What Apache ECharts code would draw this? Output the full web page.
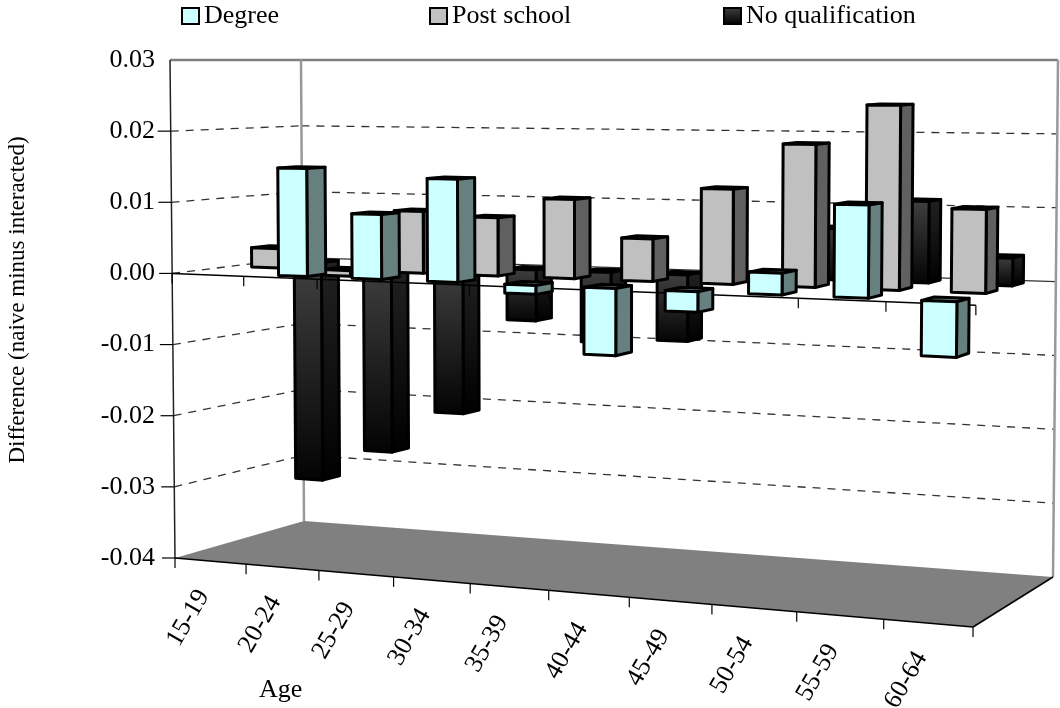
<!DOCTYPE html>
<html>
<head>
<meta charset="utf-8">
<style>html,body{margin:0;padding:0;background:#fff}#chart{width:1060px;height:708px}</style>
<script src="https://cdn.jsdelivr.net/npm/echarts@6/dist/echarts.min.js"></script>
</head>
<body>
<div id="chart"></div>
<script>
// Age bands and the difference between the naive and interacted estimates.
var ageBands = ['15-19','20-24','25-29','30-34','35-39','40-44','45-49','50-54','55-59','60-64'];
var degree = [null, 0.0150, 0.0089, 0.0140, -0.0012, -0.0089, -0.0027, 0.0028, 0.0119, -0.0070];
var postSchool = [0.0028, -0.0008, 0.0087, 0.0081, 0.0109, 0.0058, 0.0128, 0.0190, 0.0243, 0.0109];
var noQualification = [-0.0322, -0.0274, -0.0212, -0.0073, -0.0100, -0.0093, 0, 0.0070, 0.0110, 0.0037];
var valueTicks = [-0.03, -0.02, -0.01, 0, 0.01, 0.02];

// Perspective box of the plot: front-left, front-right, back-right, back-left.
var floorQuad = [[175,558],[973,627],[1053,577],[304,521]];
var ceilingQuad = [[170,60],[978,64],[1058,60],[301,60]];

// Floor plane mapping from (u, w) in the unit square to pixels.
var floorMap = (function (q) {
  var sx = q[0][0]-q[1][0]+q[2][0]-q[3][0], sy = q[0][1]-q[1][1]+q[2][1]-q[3][1];
  var dx1 = q[1][0]-q[2][0], dx2 = q[3][0]-q[2][0], dy1 = q[1][1]-q[2][1], dy2 = q[3][1]-q[2][1];
  var det = dx1*dy2-dy1*dx2, g = (sx*dy2-sy*dx2)/det, h = (dx1*sy-dy1*sx)/det;
  return {
    denom: function (u, w) { return 1+g*u+h*w; },
    at: function (u, w) {
      var d = 1+g*u+h*w;
      return [(q[0][0]+(q[1][0]-q[0][0]+g*q[1][0])*u+(q[3][0]-q[0][0]+h*q[3][0])*w)/d,
              (q[0][1]+(q[1][1]-q[0][1]+g*q[1][1])*u+(q[3][1]-q[0][1]+h*q[3][1])*w)/d];
    }
  };
})(floorQuad);

// Height of the box at each corner, scaled by the depth term so it can be interpolated.
var cornerUV = [[0,0],[1,0],[1,1],[0,1]];
var uprights = ceilingQuad.map(function (c, i) {
  var d = floorMap.denom(cornerUV[i][0], cornerUV[i][1]);
  return [(c[0]-floorQuad[i][0])*d, (c[1]-floorQuad[i][1])*d];
});

// u runs along the categories, v up the value axis, w into the depth of the box.
function project(u, v, w) {
  var uw = u + 0.0556*u*(1-u);
  var a = floorMap.at(uw, w), d = floorMap.denom(uw, w);
  var up = [0,1].map(function (k) {
    return ((1-uw)*(1-w)*uprights[0][k]+uw*(1-w)*uprights[1][k]+uw*w*uprights[2][k]+(1-uw)*w*uprights[3][k])/d;
  });
  return [a[0]+up[0]*v, a[1]+up[1]*v];
}
// Converts a pixel from the cartesian grid into the box's normalised coordinates.
function normalise(params, pt) {
  var r = params.coordSys;
  return [(pt[0]-r.x)/r.width, (r.y+r.height-pt[1])/r.height];
}

var barWidthShare = 0.395, barDepth = 0.14;
var rowStart = {degree: 0.095, post: 0.43, none: 0.765};

function polygon(points, fill) {
  return {type:'polygon', shape:{points:points},
    style:{fill:fill, stroke:'#000', lineWidth:3, lineJoin:'round'}};
}
function columnRenderer(front, side, w0) {
  return function (params, api) {
    var value = api.value(1);
    if (value == null || isNaN(value)) return;
    var i = api.value(0);
    var half = api.size([1,0])[0]*barWidthShare/2;
    var base = api.coord([i,0]), tip = api.coord([i,value]);
    var n0 = normalise(params,[base[0]-half, base[1]]);
    var n1 = normalise(params,[base[0]+half, tip[1]]);
    var u0 = n0[0], u1 = n1[0];
    var vLow = Math.min(n0[1],n1[1]), vHigh = Math.max(n0[1],n1[1]);
    var w1 = w0+barDepth;
    var fl = project(u0,vLow,w0), fr = project(u1,vLow,w0), ft = project(u1,vHigh,w0), fh = project(u0,vHigh,w0);
    var bl = project(u1,vLow,w1), bt = project(u1,vHigh,w1), tl = project(u0,vHigh,w1);
    return {type:'group', children:[
      polygon([fh,ft,bt,tl], side),
      polygon([fr,bl,bt,ft], side),
      polygon([fl,fr,ft,fh], front)
    ]};
  };
}
function line(a, b, color, width, dash) {
  return {type:'line', shape:{x1:a[0],y1:a[1],x2:b[0],y2:b[1]},
    style:{stroke:color, lineWidth:width, lineDash:dash||null}};
}
function tickValue(params, api, value) {
  return normalise(params, api.coord([0,value]))[1];
}
// Walls, floor and dashed gridlines sit behind every column.
function renderBox(params, api) {
  var kids = [];
  kids.push({type:'polygon', shape:{points:[project(0,0,0),project(1,0,0),project(1,0,1),project(0,0,1)]},
    style:{fill:'#808080'}});
  valueTicks.forEach(function (t) {
    var v = tickValue(params, api, t);
    var a = project(0,v,0), b = project(0,v,1), c = project(1,v,1);
    kids.push(line(a,b,'#333',1.3,[8,7]));
    kids.push(line(b,c,'#333',1.3,t===0?null:[8,7]));
  });
  kids.push(line(project(0,1,0),project(0,1,1),'#808080',2.5));
  kids.push(line(project(0,1,1),project(1,1,1),'#808080',2.5));
  kids.push(line(project(0,1,1),project(0,0,1),'#999',2.5));
  kids.push(line(project(1,1,1),project(1,0,1),'#999',2.5));
  kids.push(line(project(0,1,0),project(0,0,0),'#222',1.5));
  kids.push(line(project(0,0,0),project(1,0,0),'#000',1.5));
  kids.push(line(project(1,0,0),project(1,0,1),'#000',1.5));
  valueTicks.concat([-0.04]).forEach(function (t) {
    var q = project(0,tickValue(params,api,t),0);
    kids.push(line([q[0]-13,q[1]],q,'#000',1.2));
  });
  ageBands.forEach(function (name, i) {
    var q = project(i/ageBands.length,0,0);
    kids.push(line(q,[q[0],q[1]+10],'#000',1.2));
    var m = project((i+0.5)/ageBands.length,0,0);
    kids.push({type:'text', x:m[0]-22, y:m[1]+57, rotation:Math.PI/3,
      style:{text:name, fill:'#000', fontSize:26, fontFamily:'Liberation Serif', align:'center', verticalAlign:'middle'}});
  });
  var end = project(1,0,0);
  kids.push(line(end,[end[0],end[1]+10],'#000',1.2));
  return {type:'group', children:kids};
}
// The category axis at zero runs across the front of the box, over the rear row.
function renderZeroAxis(params, api) {
  var kids = [];
  var v = tickValue(params, api, 0);
  kids.push(line(project(0,v,0),project(1,v,0),'#000',1.5));
  for (var i = 0; i <= ageBands.length; i++) {
    var p = project(i/ageBands.length,v,0);
    kids.push(line(p,[p[0],p[1]+10],'#000',1.2));
  }
  return {type:'group', children:kids};
}
function rows(values) {
  return values.map(function (v,i) { return [i,v]; });
}
function shaded(top, bottom) {
  return {type:'linear',x:0,y:0,x2:0,y2:1,colorStops:[{offset:0,color:top},{offset:1,color:bottom}]};
}

var chart = echarts.init(document.getElementById('chart'), null, {renderer:'canvas'});
var legendFont = {fontFamily:'Liberation Serif', fontSize:26, color:'#000'};
var legendBase = {top:-2, icon:'rect', itemWidth:17, itemHeight:16, textStyle:legendFont};
function legendAt(left, name) {
  return Object.assign({left:left, data:[name]}, legendBase);
}
var blackStyle = {color:shaded('#404040','#000'), borderColor:'#000', borderWidth:3};
chart.setOption({
  animation:false,
  backgroundColor:'#fff',
  legend:[legendAt(176,'Degree'), legendAt(424,'Post school'), legendAt(718,'No qualification')],
  grid:{left:172, top:60, width:800, height:498},
  xAxis:{type:'category', data:ageBands, show:false},
  yAxis:{type:'value', min:-0.04, max:0.03, interval:0.01,
    axisLine:{show:false}, axisTick:{show:false}, splitLine:{show:false},
    axisLabel:{margin:17, fontFamily:'Liberation Serif', fontSize:26, color:'#000',
      formatter:function (v) { return v.toFixed(2); }}},
  graphic:[
    {type:'text', left:259, top:677, style:{text:'Age', fontFamily:'Liberation Serif', fontSize:26, fill:'#000'}},
    {type:'text', x:18, y:300, rotation:Math.PI/2, style:{text:'Difference (naive minus interacted)',
      fontFamily:'Liberation Serif', fontSize:23, fill:'#000', align:'center', verticalAlign:'middle'}}
  ],
  series:[
    {type:'custom', name:'box', silent:true, z:1, data:[[0,0]], renderItem:renderBox},
    {type:'custom', name:'No qualification', z:2, data:rows(noQualification), encode:{x:0,y:1},
      itemStyle:blackStyle, renderItem:columnRenderer(shaded('#404040','#030303'), shaded('#222','#000'), rowStart.none)},
    {type:'custom', name:'axis', silent:true, z:3, data:[[0,0]], renderItem:renderZeroAxis},
    {type:'custom', name:'Post school', z:4, data:rows(postSchool), encode:{x:0,y:1},
      itemStyle:{color:'#C0C0C0', borderColor:'#000', borderWidth:3}, renderItem:columnRenderer('#C0C0C0','#606060', rowStart.post)},
    {type:'custom', name:'Degree', z:5, data:rows(degree), encode:{x:0,y:1},
      itemStyle:{color:'#CCFFFF', borderColor:'#000', borderWidth:3}, renderItem:columnRenderer('#CCFFFF','#668080', rowStart.degree)}
  ]
});
</script>
</body>
</html>
